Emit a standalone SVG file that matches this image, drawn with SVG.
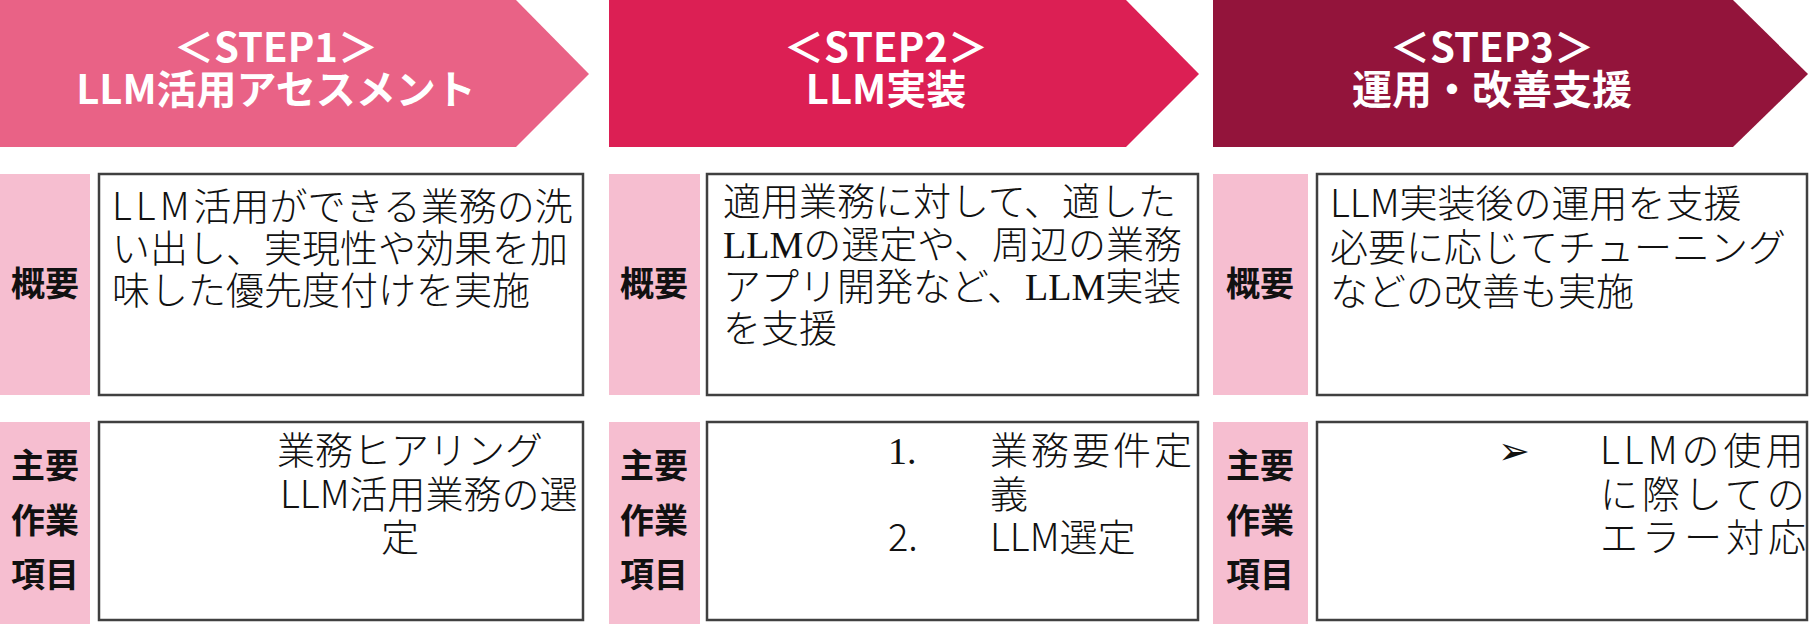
<svg xmlns="http://www.w3.org/2000/svg" width="1809" height="624" viewBox="0 0 1809 624">
<style>
.hd{font-family:"Noto Sans CJK JP","Noto Sans",sans-serif;font-weight:700;font-size:40px;fill:#fff;text-anchor:middle}
.lb{fill:#F6BED0}
.lt{font-family:"Noto Sans CJK JP",sans-serif;font-weight:700;font-size:34px;fill:#111;text-anchor:middle}
.bx{fill:#fff;stroke:#404040;stroke-width:2.5}
.tx{font-family:"Noto Sans CJK JP","Noto Sans",sans-serif;font-weight:300;font-size:38px;fill:#111}
.sf{font-family:"Liberation Serif","Noto Serif CJK JP",serif;font-weight:400}
.ll{letter-spacing:4px}
</style>
<g id="step1">
<polygon points="0,0 516,0 589,74 516,147 0,147" fill="#E96286"/>
<text class="hd" x="276" y="62">＜STEP1＞</text>
<text class="hd" x="276" y="104">LLM活用アセスメント</text>
</g>
<g id="step2">
<polygon points="609,0 1126,0 1199,74 1126,147 609,147" fill="#DC1F54"/>
<text class="hd" x="886" y="62">＜STEP2＞</text>
<text class="hd" x="886" y="104">LLM実装</text>
</g>
<g id="step3">
<polygon points="1213,0 1733,0 1808,74 1733,147 1213,147" fill="#93143B"/>
<text class="hd" x="1492" y="62">＜STEP3＞</text>
<text class="hd" x="1492" y="104">運用・改善支援</text>
</g>
<g id="label-overview-1">
<rect class="lb" x="0" y="174" width="90" height="221"/>
<text class="lt" x="45" y="296">概要</text>
</g>
<g id="overview-1">
<rect class="bx" x="99" y="174" width="484" height="221"/>
<text class="tx" x="112" y="220"><tspan class="ll">LLM</tspan>活用ができる業務の洗</text>
<text class="tx" x="112" y="262">い出し、実現性や効果を加</text>
<text class="tx" x="112" y="304">味した優先度付けを実施</text>
</g>
<g id="label-overview-2">
<rect class="lb" x="609" y="174" width="91" height="221"/>
<text class="lt" x="654" y="296">概要</text>
</g>
<g id="overview-2">
<rect class="bx" x="707" y="174" width="491" height="221"/>
<text class="tx" x="723" y="215">適用業務に対して、適した</text>
<text class="tx" x="723" y="258"><tspan class="sf">LLM</tspan>の選定や、周辺の業務</text>
<text class="tx" x="723" y="300">アプリ開発など、<tspan class="sf">LLM</tspan>実装</text>
<text class="tx" x="723" y="342">を支援</text>
</g>
<g id="label-overview-3">
<rect class="lb" x="1213" y="174" width="95" height="221"/>
<text class="lt" x="1260" y="296">概要</text>
</g>
<g id="overview-3">
<rect class="bx" x="1317" y="174" width="490" height="221"/>
<text class="tx" x="1330" y="217">LLM実装後の運用を支援</text>
<text class="tx" x="1330" y="261">必要に応じてチューニング</text>
<text class="tx" x="1330" y="305">などの改善も実施</text>
</g>
<g id="label-tasks-1">
<rect class="lb" x="0" y="422" width="90" height="202"/>
<text class="lt" x="45" y="478">主要</text>
<text class="lt" x="45" y="533">作業</text>
<text class="lt" x="45" y="587">項目</text>
</g>
<g id="tasks-1">
<rect class="bx" x="99" y="422" width="484" height="198"/>
<text class="tx" x="277" y="464">業務ヒアリング</text>
<text class="tx" x="280" y="508">LLM活用業務の選</text>
<text class="tx" x="381" y="551">定</text>
</g>
<g id="label-tasks-2">
<rect class="lb" x="609" y="422" width="91" height="202"/>
<text class="lt" x="654" y="478">主要</text>
<text class="lt" x="654" y="533">作業</text>
<text class="lt" x="654" y="587">項目</text>
</g>
<g id="tasks-2">
<rect class="bx" x="707" y="422" width="491" height="198"/>
<text class="tx sf" x="888" y="464">1.</text>
<text class="tx" x="990" y="464" letter-spacing="3">業務要件定</text>
<text class="tx" x="990" y="508">義</text>
<text class="tx" x="888" y="551">2.</text>
<text class="tx" x="990" y="551">LLM選定</text>
</g>
<g id="label-tasks-3">
<rect class="lb" x="1213" y="422" width="95" height="202"/>
<text class="lt" x="1260" y="478">主要</text>
<text class="lt" x="1260" y="533">作業</text>
<text class="lt" x="1260" y="587">項目</text>
</g>
<g id="tasks-3">
<rect class="bx" x="1317" y="422" width="490" height="198"/>
<text class="tx" x="1498" y="464" font-size="32">➢</text>
<text class="tx" x="1600" y="464" letter-spacing="4">LLMの使用</text>
<text class="tx" x="1600" y="508" letter-spacing="4">に際しての</text>
<text class="tx" x="1600" y="551" letter-spacing="4">エラー対応</text>
</g>
<g id="connectors"></g>
</svg>
